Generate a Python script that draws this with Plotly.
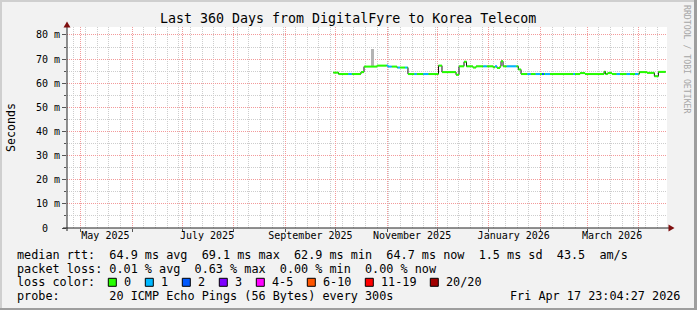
import plotly.graph_objects as go
import pandas as pd

# ---------------- data ----------------
rtt_times = [
    "2025-09-29 18:00", "2025-10-02 21:00", "2025-10-08 18:00", "2025-10-10 18:00",
    "2025-10-16 08:00", "2025-10-18 04:00", "2025-10-25 23:00", "2025-10-31 19:00",
    "2025-11-01 13:00", "2025-11-03 19:00", "2025-11-06 23:00", "2025-11-07 09:00",
    "2025-11-08 19:00", "2025-11-11 18:00", "2025-11-13 03:00", "2025-11-13 13:00",
    "2025-11-17 09:00", "2025-11-18 19:00", "2025-11-22 18:00", "2025-11-25 18:00",
    "2025-12-01 21:00", "2025-12-03 23:00", "2025-12-12 09:00", "2025-12-14 04:00",
    "2025-12-17 04:00", "2025-12-18 16:00", "2025-12-22 13:00", "2025-12-24 09:00",
    "2025-12-28 18:00", "2025-12-30 18:00", "2026-01-03 14:00", "2026-01-04 19:00",
    "2026-01-05 23:00", "2026-01-07 18:00", "2026-01-08 09:00", "2026-01-09 14:00",
    "2026-01-11 18:00", "2026-01-17 12:00", "2026-01-18 18:00", "2026-01-20 09:00",
    "2026-01-24 04:00", "2026-01-26 04:00", "2026-01-29 04:00", "2026-01-31 18:00",
    "2026-02-01 23:00", "2026-02-03 04:00", "2026-02-03 19:00", "2026-02-06 18:00",
    "2026-02-20 18:00", "2026-02-21 18:00", "2026-02-24 19:00", "2026-02-27 19:00",
    "2026-03-11 05:00", "2026-03-12 02:00", "2026-03-13 09:00", "2026-03-15 23:00",
    "2026-03-18 18:00", "2026-03-20 18:00", "2026-03-24 18:00", "2026-03-26 18:00",
    "2026-03-29 19:00", "2026-03-31 18:00", "2026-04-01 09:00", "2026-04-05 23:00",
    "2026-04-10 09:00", "2026-04-12 19:00", "2026-04-17 04:00",
]
rtt_median_ms = [
    64.4, 63.8, 63.8, 63.8,
    64.6, 66.9, 67.3, 67.3,
    66.9, 66.9, 66.5, 66.5,
    66.5, 66.5, 66.5, 63.8,
    63.8, 63.8, 63.8, 63.8,
    67.3, 64.6, 63.5, 67.0,
    68.9, 67.0, 66.5, 67.0,
    67.0, 67.0, 66.6, 67.0,
    66.3, 67.0, 69.1, 67.0,
    67.0, 67.0, 65.7, 63.8,
    63.8, 63.8, 63.8, 63.8,
    63.8, 63.8, 63.8, 63.8,
    63.8, 63.8, 64.2, 63.8,
    64.8, 63.8, 64.2, 63.8,
    63.8, 63.8, 63.8, 63.8,
    63.8, 63.8, 64.6, 64.3,
    62.9, 64.7, 64.7,
]
rtt_loss = [
    0, 0, 1, 0,
    0, 0, 0, 1,
    1, 0, 0, 1,
    0, 1, 0, 0,
    1, 0, 1, 0,
    0, 0, 0, 0,
    0, 0, 0, 0,
    1, 0, 0, 1,
    0, 0, 0, 0,
    1, 0, 0, 0,
    1, 0, 1, 0,
    2, 0, 1, 0,
    1, 0, 0, 0,
    0, 0, 0, 0,
    1, 0, 1, 0,
    1, 0, 0, 0,
    0, 0, 0,
]
smoke_times = ["2025-10-23 06:00"]
smoke_low_ms = [67.3]
smoke_high_ms = [74.0]

loss_labels = ["0", "1", "2", "3", "4-5", "6-10", "11-19", "20/20"]
loss_colors = ["#26ff00", "#00b8ff", "#0059ff", "#7e00ff", "#ff00ff", "#ff5500", "#ff0000", "#a10000"]

y_tick_vals = [0, 10, 20, 30, 40, 50, 60, 70, 80]
y_tick_text = ["0\u00a0\u00a0", "10 m", "20 m", "30 m", "40 m", "50 m", "60 m", "70 m", "80 m"]
x_label_months = ["2025-05-01", "2025-07-01", "2025-09-01", "2025-11-01", "2026-01-01", "2026-03-01"]
x_label_text = ["May 2025", "July 2025", "September 2025", "November 2025", "January 2026", "March 2026"]

title_text = "Last 360 Days from DigitalFyre to Korea Telecom"
legend_line1 = "median rtt:  64.9 ms avg  69.1 ms max  62.9 ms min  64.7 ms now  1.5 ms sd  43.5  am/s"
legend_line2 = "packet loss: 0.01 % avg  0.63 % max  0.00 % min  0.00 % now"
legend_line3 = "loss color:"
legend_line4 = "probe:       20 ICMP Echo Pings (56 Bytes) every 300s"
stamp_text = "Fri Apr 17 23:04:27 2026"

start = pd.Timestamp("2025-04-22 23:04:27")
end = pd.Timestamp("2026-04-17 23:04:27")

# ---------------- layout geometry ----------------
W, H = 697, 310
L, R, T, B = 67, 30, 27, 82
PW, PH = W - L - R, H - T - B
MONO = "DejaVu Sans Mono"


def xp(px):
    return (px - L) / PW


def yp(py):
    return (H - B - py) / PH


def nb(s):
    return s.replace(" ", "\u00a0")


fig = go.Figure()

# smoke (spread of pings)
fig.add_trace(go.Bar(
    x=pd.to_datetime(smoke_times), y=[h - l for h, l in zip(smoke_high_ms, smoke_low_ms)],
    base=smoke_low_ms, width=[1.5 * 86400000] * len(smoke_times),
    marker=dict(color="#b4b4b4", line=dict(width=0)), hoverinfo="skip"))

# dark step line underneath (transitions)
t = pd.to_datetime(rtt_times)
fig.add_trace(go.Scatter(x=t, y=rtt_median_ms, mode="lines", line=dict(color="#111111", width=1, shape="hv"),
                         hoverinfo="skip"))

# loss-coloured median segments
for lv in sorted(set(rtt_loss)):
    xs, ys = [], []
    for i in range(len(t) - 1):
        if rtt_loss[i] == lv:
            xs += [t[i], t[i + 1], None]
            ys += [rtt_median_ms[i], rtt_median_ms[i], None]
    fig.add_trace(go.Scatter(x=xs, y=ys, mode="lines", line=dict(color=loss_colors[lv], width=2),
                             hoverinfo="skip", connectgaps=False))

# dummy trace for the label axis
fig.add_trace(go.Scatter(x=[start, end], y=[0, 0], xaxis="x2", mode="lines", line=dict(width=0),
                         hoverinfo="skip", showlegend=False))

label_pos = [pd.Timestamp(m) + pd.Timedelta(days=15) for m in x_label_months]

fig.update_layout(
    width=W, height=H, margin=dict(l=L, r=R, t=T, b=B),
    paper_bgcolor="#f2f2f2", plot_bgcolor="#ffffff", showlegend=False,
    bargap=0,
    xaxis=dict(type="date", range=[start, end], tickmode="linear", tick0="2025-01-01", dtick="M1",
               showticklabels=False, showgrid=True, gridcolor="#f39a9a", griddash="1px,1px", gridwidth=1,
               ticks="outside", ticklen=3, tickcolor="#555555", zeroline=False, showline=False,
               minor=dict(tickmode="linear", tick0="2025-04-27", dtick=7 * 86400000, showgrid=True,
                          gridcolor="#cdcdcd", griddash="1px,1px", ticks="")),
    xaxis2=dict(type="date", range=[start, end], overlaying="x", anchor="y", side="bottom",
                tickmode="array", tickvals=label_pos, ticktext=x_label_text, showgrid=False,
                ticks="", zeroline=False, showline=False,
                tickfont=dict(family=MONO, size=10, color="#000000")),
    yaxis=dict(range=[0, 83.3], tickmode="array", tickvals=y_tick_vals, ticktext=y_tick_text,
               showgrid=True, gridcolor="#f39a9a", griddash="1px,1px", gridwidth=1,
               ticks="outside", ticklen=4, tickcolor="#555555", zeroline=False, showline=False,
               tickfont=dict(family=MONO, size=10, color="#000000"),
               minor=dict(tickmode="linear", tick0=0, dtick=5, showgrid=True, gridcolor="#cdcdcd",
                          griddash="1px,1px", ticks="outside", ticklen=2, tickcolor="#555555")),
)

shapes = []
# 3D frame
shapes.append(dict(type="rect", xref="paper", yref="paper", x0=xp(0), x1=xp(W), y0=yp(0), y1=yp(2),
                   fillcolor="#cfcfcf", line=dict(width=0)))
shapes.append(dict(type="rect", xref="paper", yref="paper", x0=xp(0), x1=xp(2), y0=yp(0), y1=yp(H),
                   fillcolor="#cfcfcf", line=dict(width=0)))
shapes.append(dict(type="rect", xref="paper", yref="paper", x0=xp(0), x1=xp(W), y0=yp(H - 2), y1=yp(H),
                   fillcolor="#9e9e9e", line=dict(width=0)))
shapes.append(dict(type="rect", xref="paper", yref="paper", x0=xp(W - 3), x1=xp(W), y0=yp(0), y1=yp(H),
                   fillcolor="#9e9e9e", line=dict(width=0)))
# axis lines
shapes.append(dict(type="line", xref="paper", yref="paper", x0=xp(67), x1=xp(67), y0=yp(231), y1=yp(24),
                   line=dict(color="#222222", width=1)))
shapes.append(dict(type="line", xref="paper", yref="paper", x0=xp(63), x1=xp(670), y0=yp(228), y1=yp(228),
                   line=dict(color="#222222", width=1)))
# arrow heads
shapes.append(dict(type="path", xref="paper", yref="paper",
                   path=f"M {xp(67)} {yp(21.5)} L {xp(63.5)} {yp(27.5)} L {xp(70.5)} {yp(27.5)} Z",
                   fillcolor="#7f0f0f", line=dict(width=0)))
shapes.append(dict(type="path", xref="paper", yref="paper",
                   path=f"M {xp(674.5)} {yp(228)} L {xp(668.5)} {yp(224.5)} L {xp(668.5)} {yp(231.5)} Z",
                   fillcolor="#7f0f0f", line=dict(width=0)))
# loss colour boxes
box_y0, box_y1 = 278.3, 286.3
bx = 108.3
box_x = []
for lab in loss_labels:
    box_x.append(bx)
    bx += 30 + 7.0 * len(lab)
for x0, col in zip(box_x, loss_colors):
    shapes.append(dict(type="rect", xref="paper", yref="paper", x0=xp(x0), x1=xp(x0 + 8),
                       y0=yp(box_y1), y1=yp(box_y0), fillcolor=col, line=dict(color="#000000", width=1)))
fig.update_layout(shapes=shapes)

ann = []
LEG = 11.8


def text(s, x, y, size=LEG, anchor="left", color="#000000", angle=0):
    ann.append(dict(text=nb(s), x=xp(x), y=yp(y), xref="paper", yref="paper", xanchor=anchor,
                    yanchor="middle", showarrow=False, textangle=angle, borderpad=0,
                    font=dict(family=MONO, size=size, color=color)))


text(title_text, 347.5, 19, size=13.3, anchor="center")
text("Seconds", 10.5, 127.5, size=11.6, anchor="center", angle=-90)
text("RRDTOOL / TOBI OETIKER", 687, 59, size=8.2, anchor="center", color="#a6a6a6", angle=90)
text(legend_line1, 15.5, 255)
text(legend_line2, 15.5, 268.5)
text(legend_line3, 15.5, 282.3)
for x0, lab in zip(box_x, loss_labels):
    text(lab, x0 + 14.5, 282.3)
text(legend_line4, 15.5, 296)
text(stamp_text, 680.5, 296, anchor="right")
fig.update_layout(annotations=ann)

fig.write_html("out.html")
